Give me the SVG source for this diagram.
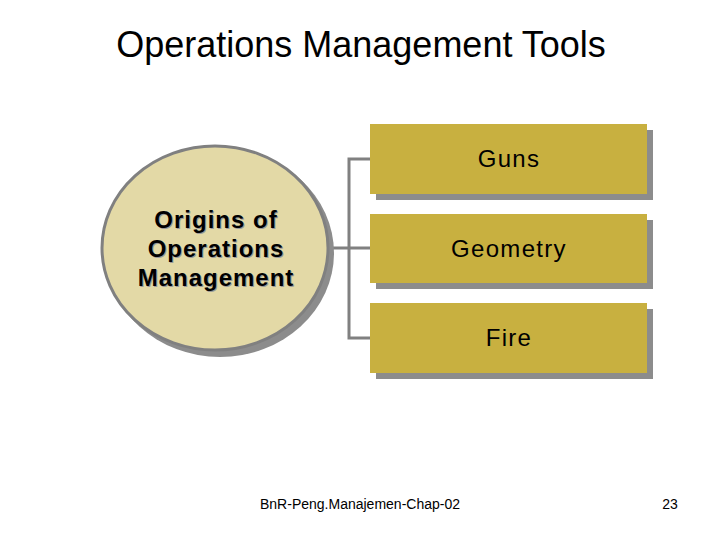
<svg xmlns="http://www.w3.org/2000/svg" width="720" height="540" viewBox="0 0 720 540">
<style>
.t{font-family:"Liberation Sans",Arial,sans-serif;fill:#000}
.box{fill:#C8B040}
.sh{fill:#8C8C8C}
.conn{stroke:#808080;stroke-width:3;fill:none}
.bt{font-size:24px;letter-spacing:1.3px}
</style>
<rect width="720" height="540" fill="#fff"/>
<text class="t" x="361" y="57" font-size="36" text-anchor="middle">Operations Management Tools</text>
<g id="connectors">
<path class="conn" d="M330 248H349M370 159H349V338H370M349 248H370"/>
</g>
<g id="origins">
<ellipse cx="220" cy="253" rx="114" ry="104" fill="#8C8C8C"/>
<ellipse cx="215" cy="248" rx="113" ry="102" fill="#E3D9A6" stroke="#808080" stroke-width="3"/>
<g class="t" font-size="24" font-weight="bold" text-anchor="middle" letter-spacing="1">
<text x="217" y="229" fill="#999">Origins of</text>
<text x="217" y="258" fill="#999">Operations</text>
<text x="217" y="287" fill="#999">Management</text>
<text x="216" y="228">Origins of</text>
<text x="216" y="257">Operations</text>
<text x="216" y="286">Management</text>
</g>
</g>
<g id="guns">
<rect class="sh" x="376" y="130" width="277" height="70"/>
<rect class="box" x="370" y="124" width="277" height="70"/>
<text class="t bt" x="509" y="167" text-anchor="middle">Guns</text>
</g>
<g id="geometry">
<rect class="sh" x="376" y="220" width="277" height="69"/>
<rect class="box" x="370" y="214" width="277" height="69"/>
<text class="t bt" x="509" y="257" text-anchor="middle">Geometry</text>
</g>
<g id="fire">
<rect class="sh" x="376" y="309" width="277" height="70"/>
<rect class="box" x="370" y="303" width="277" height="70"/>
<text class="t bt" x="509" y="346" text-anchor="middle">Fire</text>
</g>
<text class="t" x="360" y="509" font-size="14" text-anchor="middle">BnR-Peng.Manajemen-Chap-02</text>
<text class="t" x="670" y="509" font-size="14" text-anchor="middle">23</text>
</svg>
